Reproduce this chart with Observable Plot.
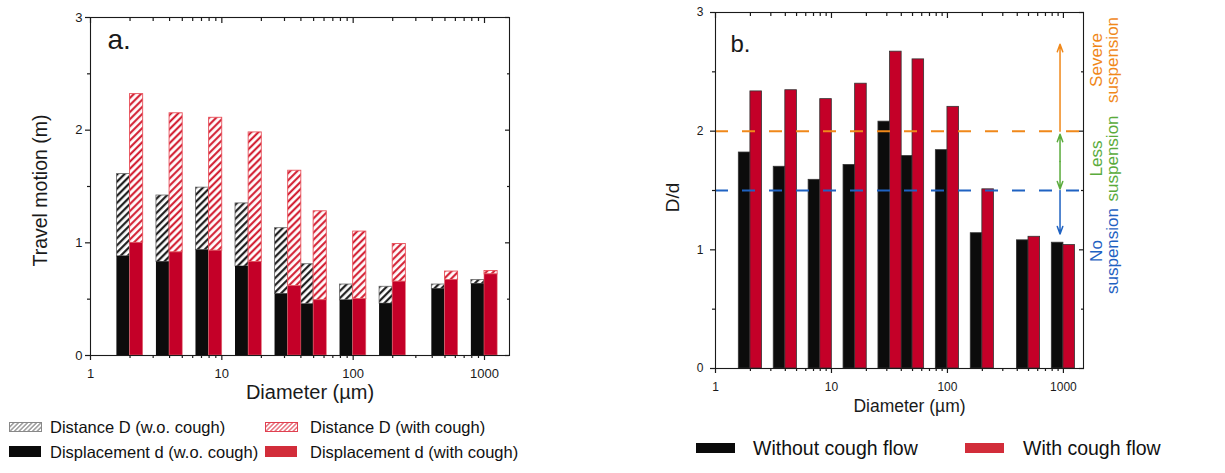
<!DOCTYPE html>
<html><head><meta charset="utf-8">
<script src="https://cdn.jsdelivr.net/npm/d3@7"></script>
<script src="https://cdn.jsdelivr.net/npm/@observablehq/plot@0.6"></script>
<style>
html,body{margin:0;padding:0;background:#fff;}
#wrap{position:relative;width:1225px;height:473px;font-family:"Liberation Sans",Arial,sans-serif;color:#111;overflow:hidden;background:#fff}
#pa{position:absolute;left:0;top:0}
#pb{position:absolute;left:600px;top:0}
.t{position:absolute;white-space:nowrap;line-height:1}
.sw{position:absolute;display:block}
</style></head><body>
<svg width="0" height="0" style="position:absolute"><defs>
<pattern id="hatchK" patternUnits="userSpaceOnUse" width="5" height="5" patternTransform="rotate(45)"><rect width="5" height="5" fill="#fff"/><line x1="1.2" y1="0" x2="1.2" y2="5" stroke="#111" stroke-width="2.1"/></pattern>
<pattern id="hatchR" patternUnits="userSpaceOnUse" width="5" height="5" patternTransform="rotate(45)"><rect width="5" height="5" fill="#fff"/><line x1="1.2" y1="0" x2="1.2" y2="5" stroke="#d01025" stroke-width="2"/></pattern>
<pattern id="legK" patternUnits="userSpaceOnUse" width="3.2" height="3.2" patternTransform="rotate(45)"><rect width="3.2" height="3.2" fill="#fff"/><line x1="0.8" y1="0" x2="0.8" y2="3.2" stroke="#777" stroke-width="1.1"/></pattern>
<pattern id="legR" patternUnits="userSpaceOnUse" width="3.2" height="3.2" patternTransform="rotate(45)"><rect width="3.2" height="3.2" fill="#fff"/><line x1="0.8" y1="0" x2="0.8" y2="3.2" stroke="#e04050" stroke-width="1.1"/></pattern>
</defs></svg>
<div id="wrap">
<div id="pa"></div><div id="pb"></div>
<svg class="sw" style="left:9px;top:422px" width="33" height="10"><rect x="0.5" y="0.5" width="32" height="9" fill="url(#legK)" stroke="#888"/></svg>
<span class="t" style="left:50px;top:419px;font-size:16.5px">Distance D (w.o. cough)</span>
<svg class="sw" style="left:265px;top:422px" width="33" height="10"><rect x="0.5" y="0.5" width="32" height="9" fill="url(#legR)" stroke="#e04050"/></svg>
<span class="t" style="left:310px;top:419px;font-size:16.5px">Distance D (with cough)</span>
<div class="sw" style="left:9px;top:446px;width:32px;height:11px;background:#0a0a0a"></div>
<span class="t" style="left:50px;top:444px;font-size:16.5px">Displacement d (w.o. cough)</span>
<div class="sw" style="left:265px;top:446px;width:32px;height:11px;background:#d22d3a"></div>
<span class="t" style="left:310px;top:444px;font-size:16.5px">Displacement d (with cough)</span>
<div class="sw" style="left:696px;top:443px;width:39px;height:10px;background:#0a0a0a"></div>
<span class="t" style="left:753px;top:439px;font-size:19.5px">Without cough flow</span>
<div class="sw" style="left:965px;top:443px;width:39px;height:10px;background:#d22d3a"></div>
<span class="t" style="left:1023px;top:439px;font-size:19.5px">With cough flow</span>
</div>
<script>
// ---- data ----
const diameters = [2, 4, 8, 16, 32, 50, 100, 200, 500, 1000];
const distanceNoCough = [1.61, 1.42, 1.49, 1.35, 1.13, 0.81, 0.63, 0.61, 0.63, 0.67];
const displacementNoCough = [0.88, 0.83, 0.935, 0.79, 0.545, 0.455, 0.49, 0.46, 0.59, 0.635];
const distanceCough = [2.32, 2.15, 2.11, 1.98, 1.64, 1.28, 1.10, 0.99, 0.745, 0.75];
const displacementCough = [1.0, 0.915, 0.93, 0.83, 0.615, 0.49, 0.50, 0.655, 0.67, 0.72];
const ratioNoCough = [1.82, 1.70, 1.59, 1.715, 2.08, 1.79, 1.84, 1.14, 1.08, 1.06];
const ratioCough = [2.335, 2.345, 2.27, 2.40, 2.67, 2.605, 2.205, 1.51, 1.11, 1.04];
const xTickLabels = [1, 10, 100, 1000];
const yTicks = [0, 1, 2, 3];
const yMinorTicks = [0.5, 1.5, 2.5];
const thresholds = [2.0, 1.5];
const zoneWords = ["Severe", "Less", "No"];
const zoneSecond = "suspension";
const zoneCenters = [2.6, 1.77, 0.99];
const arrowDiameter = 935;
const arrowEnds = [[2.0, 2.733], [1.745, 1.975], [1.745, 1.513], [1.5, 1.134]];

// ---- helpers ----
const step = Math.pow(10, 0.1);
const rows = diameters.map((dia, i) => ({
  dia, Dn: distanceNoCough[i], dn: displacementNoCough[i],
  Dc: distanceCough[i], dc: displacementCough[i],
  rn: ratioNoCough[i], rc: ratioCough[i]
}));
const minorX = [1, 10, 100].flatMap(p => d3.range(2, 10).map(k => k * p));
const FONT = '"Liberation Sans", Arial, sans-serif';
const BLACK = "#0c0c0c", RED = "#c40028";
const ORANGE = "#f0881a", GREEN = "#5aab3c", BLUE = "#1f62c2";
const INK = "#1a1a1a";
const blank = () => "";

function frameAxes(fs, padX, padY) {
  const M = 5, m = 3;
  const tk = {stroke: INK, strokeWidth: 1.2, label: null};
  return [
    Plot.frame({stroke: INK, strokeWidth: 1.1}),
    Plot.axisX(xTickLabels, {anchor: "bottom", tickSize: M, tickPadding: padX, fontSize: fs, tickFormat: d => String(d), ...tk}),
    Plot.axisX(minorX, {anchor: "bottom", tickSize: m, tickFormat: blank, ...tk}),
    Plot.axisX(xTickLabels, {anchor: "top", tickSize: -M, tickFormat: blank, ...tk}),
    Plot.axisX(minorX, {anchor: "top", tickSize: -m, tickFormat: blank, ...tk}),
    Plot.axisY(yTicks, {anchor: "left", tickSize: M, tickPadding: padY, fontSize: fs, tickFormat: d => String(d), ...tk}),
    Plot.axisY(yMinorTicks, {anchor: "left", tickSize: m, tickFormat: blank, ...tk}),
    Plot.axisY(yTicks, {anchor: "right", tickSize: -M, tickFormat: blank, ...tk}),
    Plot.axisY(yMinorTicks, {anchor: "right", tickSize: -m, tickFormat: blank, ...tk})
  ];
}

// ---- panel a ----
const plotA = Plot.plot({
  width: 600, height: 405,
  marginLeft: 90, marginRight: 91, marginTop: 17, marginBottom: 50,
  x: {type: "log", domain: [1, 1550]},
  y: {domain: [0, 3]},
  style: {fontFamily: FONT, fontSize: "13px", color: INK, background: "transparent", overflow: "visible"},
  marks: [
    Plot.rect(rows, {x1: d => d.dia / step, x2: d => d.dia, y1: d => d.dn, y2: d => d.Dn, fill: "url(#hatchK)", stroke: "#666", strokeWidth: 0.8}),
    Plot.rect(rows, {x1: d => d.dia / step, x2: d => d.dia, y1: 0, y2: d => d.dn, fill: BLACK}),
    Plot.rect(rows, {x1: d => d.dia, x2: d => d.dia * step, y1: d => d.dc, y2: d => d.Dc, fill: "url(#hatchR)", stroke: "#e8505a", strokeWidth: 0.9}),
    Plot.rect(rows, {x1: d => d.dia, x2: d => d.dia * step, y1: 0, y2: d => d.dc, fill: RED, stroke: "#e46a72", strokeWidth: 0.6}),
    ...frameAxes(13, 8, 3),
    Plot.text(["a."], {frameAnchor: "top-left", dx: 17, dy: 12, fontSize: 28, textAnchor: "start"}),
    Plot.text(["Diameter (µm)"], {frameAnchor: "bottom", lineAnchor: "middle", textAnchor: "middle", dx: 10, dy: 37, fontSize: 20}),
    Plot.text(["Travel motion (m)"], {frameAnchor: "left", lineAnchor: "middle", textAnchor: "middle", rotate: -90, dx: -50, dy: 4, fontSize: 19.5})
  ]
});
document.getElementById("pa").appendChild(plotA);

// ---- panel b ----
const zoneColors = [ORANGE, GREEN, BLUE];
const arrowColors = [ORANGE, GREEN, GREEN, BLUE];
const plotB = Plot.plot({
  width: 625, height: 425,
  marginLeft: 115, marginRight: 142, marginTop: 12, marginBottom: 57,
  x: {type: "log", domain: [1, 1490]},
  y: {domain: [0, 3]},
  style: {fontFamily: FONT, fontSize: "12px", color: INK, background: "transparent", overflow: "visible"},
  marks: [
    Plot.rect(rows, {x1: d => d.dia / step, x2: d => d.dia, y1: 0, y2: d => d.rn, fill: BLACK, stroke: "#333", strokeWidth: 0.8}),
    Plot.rect(rows, {x1: d => d.dia, x2: d => d.dia * step, y1: 0, y2: d => d.rc, fill: RED, stroke: "#333", strokeWidth: 0.8}),
    Plot.ruleY([thresholds[0]], {stroke: ORANGE, strokeWidth: 2, strokeDasharray: "13,14"}),
    Plot.ruleY([thresholds[1]], {stroke: BLUE, strokeWidth: 2, strokeDasharray: "13,14"}),
    ...arrowEnds.map((e, i) => Plot.arrow([e], {x: arrowDiameter, y1: d => d[0], y2: d => d[1], stroke: arrowColors[i], strokeWidth: 1.5, headLength: 8, headAngle: 40})),
    ...frameAxes(12, 9, 7),
    ...zoneWords.map((w, i) => Plot.text([w], {y: zoneCenters[i], frameAnchor: "right", lineAnchor: "middle", textAnchor: "middle", rotate: -90, dx: 13, fontSize: 17, fill: zoneColors[i]})),
    ...zoneWords.map((w, i) => Plot.text([zoneSecond], {y: zoneCenters[i], frameAnchor: "right", lineAnchor: "middle", textAnchor: "middle", rotate: -90, dx: 29.5, fontSize: 17, fill: zoneColors[i]})),
    Plot.text(["b."], {frameAnchor: "top-left", dx: 15, dy: 22, fontSize: 24, textAnchor: "start"}),
    Plot.text(["Diameter (µm)"], {frameAnchor: "bottom", lineAnchor: "middle", textAnchor: "middle", dx: 10, dy: 38, fontSize: 17.5}),
    Plot.text(["D/d"], {frameAnchor: "left", lineAnchor: "middle", textAnchor: "middle", rotate: -90, dx: -43, dy: 7, fontSize: 19})
  ]
});
document.getElementById("pb").appendChild(plotB);
</script>
</body></html>
